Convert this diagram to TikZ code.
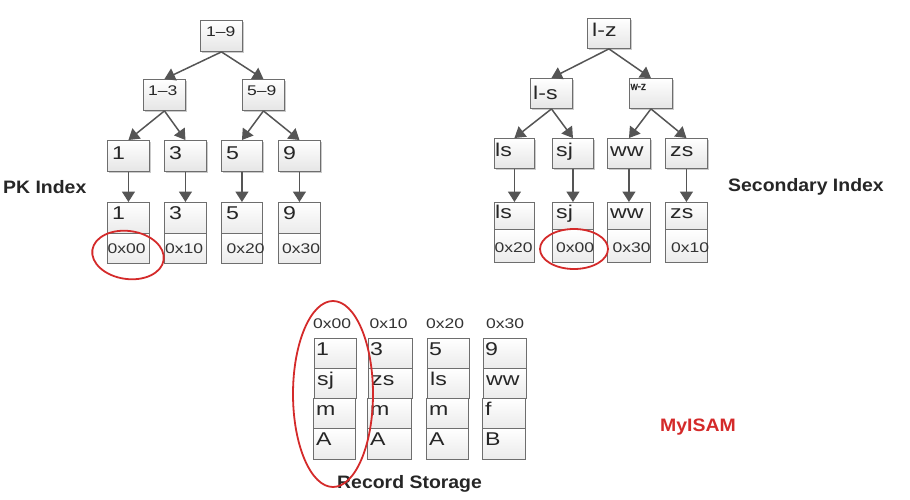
\documentclass[tikz,border=0pt]{standalone}
\usepackage{fontspec}
\setmainfont{Liberation Sans}[FakeStretch=1.25]
\newfontfamily\addrfont{Liberation Sans}[FakeStretch=1.25]
\newfontfamily\tinyfont{Liberation Sans}[FakeStretch=0.85,FakeBold=1.5]
\newfontfamily\titlefont{Liberation Sans}[FakeStretch=1.08]
\usetikzlibrary{arrows.meta,shadows}
\definecolor{boxline}{HTML}{6E6E6E}
\definecolor{arrowc}{HTML}{555555}
\definecolor{circred}{HTML}{D42A2A}
\begin{document}
\begin{tikzpicture}[x=1pt,y=-1pt,
  box/.style={draw=boxline, line width=0.9pt, rectangle, inner sep=0pt, anchor=north west,
    top color=white, bottom color=black!10,
    drop shadow={shadow xshift=1.6pt, shadow yshift=-1.6pt, fill=black!45, opacity=0.45}},
  cell/.style={draw=boxline, line width=0.9pt, rectangle, inner sep=0pt, anchor=north west,
    top color=white, bottom color=black!8},
  txt/.style={anchor=base west, inner sep=0pt, font=\fontsize{18.5}{18.5}\selectfont, text=black!85},
  sml/.style={anchor=base west, inner sep=0pt, font=\fontsize{14}{14}\selectfont, text=black!85},
  addr/.style={anchor=base west, inner sep=0pt, font=\addrfont\fontsize{14}{14}\selectfont, text=black!80},
  arr/.style={draw=arrowc, line width=1.5pt, -{Triangle[width=13pt,length=10.5pt]}},
  ring/.style={draw=circred, line width=1.8pt},
  title/.style={inner sep=0pt, font=\titlefont\bfseries\fontsize{18}{18}\selectfont, text=black!85}
]
\useasboundingbox (0,0) rectangle (910,500);

% ---------------- PK index ----------------
\node[box, minimum width=42, minimum height=31] (r19) at (200,20) {};
\node[sml] (t19) at ([xshift=6,yshift=-17]r19.north west) {1–9};
\node[box, minimum width=42, minimum height=31] (r13) at (143,79) {};
\node[sml] (t13) at ([xshift=5,yshift=-17]r13.north west) {1–3};
\node[box, minimum width=42, minimum height=31] (r59) at (242,79) {};
\node[sml] (t59) at ([xshift=5,yshift=-17]r59.north west) {5–9};

\node[box, minimum width=42, minimum height=31] (p1) at (107,140) {};
\node[box, minimum width=42, minimum height=31] (p3) at (164,140) {};
\node[box, minimum width=41, minimum height=31] (p5) at (221,140) {};
\node[box, minimum width=42, minimum height=31] (p9) at (278,140) {};
\node[txt] (tp1) at ([xshift=5,yshift=-19]p1.north west) {1};
\node[txt] (tp3) at ([xshift=5,yshift=-19]p3.north west) {3};
\node[txt] (tp5) at ([xshift=5,yshift=-19]p5.north west) {5};
\node[txt] (tp9) at ([xshift=5,yshift=-19]p9.north west) {9};

\node[cell, minimum width=42, minimum height=31] (q1) at (107,202) {};
\node[cell, minimum width=42, minimum height=31] (q3) at (164,202) {};
\node[cell, minimum width=41, minimum height=31] (q5) at (221,202) {};
\node[cell, minimum width=42, minimum height=31] (q9) at (278,202) {};
\node[cell, minimum width=42, minimum height=30] (a1) at (107,233) {};
\node[cell, minimum width=42, minimum height=30] (a3) at (164,233) {};
\node[cell, minimum width=41, minimum height=30] (a5) at (221,233) {};
\node[cell, minimum width=42, minimum height=30] (a9) at (278,233) {};
\node[txt] (tq1) at ([xshift=5,yshift=-17]q1.north west) {1};
\node[txt] (tq3) at ([xshift=5,yshift=-17]q3.north west) {3};
\node[txt] (tq5) at ([xshift=5,yshift=-17]q5.north west) {5};
\node[txt] (tq9) at ([xshift=5,yshift=-17]q9.north west) {9};
\node[addr] (ta1) at ([xshift=0.5,yshift=-20]a1.north west) {0x00};
\node[addr] (ta3) at ([xshift=1,yshift=-20]a3.north west) {0x10};
\node[addr] (ta5) at ([xshift=5.5,yshift=-20]a5.north west) {0x20};
\node[addr] (ta9) at ([xshift=4,yshift=-20]a9.north west) {0x30};

\draw[arr] (r19.south) -- (r13.north);
\draw[arr] (r19.south) -- (r59.north);
\draw[arr] (r13.south) -- (p1.north);
\draw[arr] (r13.south) -- (p3.north);
\draw[arr] (r59.south) -- (p5.north);
\draw[arr] (r59.south) -- (p9.north);
\draw[arr] (p1.south) -- (q1.north);
\draw[arr] (p3.south) -- (q3.north);
\draw[arr] (p5.south) -- (q5.north);
\draw[arr] (p9.south) -- (q9.north);

\node[title, anchor=west] (pk) at (3,187) {PK Index};
\draw[ring, rotate around={-8:(128,255)}] (128,255) ellipse [x radius=36, y radius=24];

% ---------------- Secondary index ----------------
\node[box, minimum width=43, minimum height=30] (rlz) at (587,18) {};
\node[txt] (tlz) at ([xshift=5,yshift=-19]rlz.north west) {l-z};
\node[box, minimum width=42, minimum height=30] (rls) at (530,78) {};
\node[txt] (tls) at ([xshift=3,yshift=-22]rls.north west) {l-s};
\node[box, minimum width=43, minimum height=30] (rwz) at (629,78) {};
\node[anchor=base west, inner sep=0pt, font=\tinyfont\fontsize{11.5}{11.5}\selectfont, text=black!85] (twz) at ([xshift=1.5,yshift=-12]rwz.north west) {w-z};

\node[box, minimum width=40, minimum height=30] (s1) at (494,138) {};
\node[box, minimum width=41, minimum height=30] (s2) at (552,138) {};
\node[box, minimum width=43, minimum height=30] (s3) at (607,138) {};
\node[box, minimum width=42, minimum height=30] (s4) at (665,138) {};
\node[txt] (ts1) at ([xshift=1,yshift=-19]s1.north west) {ls};
\node[txt] (ts2) at ([xshift=4,yshift=-19]s2.north west) {sj};
\node[txt] (ts3) at ([xshift=3,yshift=-19]s3.north west) {ww};
\node[txt] (ts4) at ([xshift=5,yshift=-19]s4.north west) {zs};

\node[cell, minimum width=40, minimum height=27] (u1) at (494,202) {};
\node[cell, minimum width=41, minimum height=27] (u2) at (552,202) {};
\node[cell, minimum width=43, minimum height=27] (u3) at (607,202) {};
\node[cell, minimum width=42, minimum height=27] (u4) at (665,202) {};
\node[cell, minimum width=40, minimum height=33] (b1) at (494,229) {};
\node[cell, minimum width=41, minimum height=33] (b2) at (552,229) {};
\node[cell, minimum width=43, minimum height=33] (b3) at (607,229) {};
\node[cell, minimum width=42, minimum height=33] (b4) at (665,229) {};
\node[txt] (tu1) at ([xshift=1,yshift=-16]u1.north west) {ls};
\node[txt] (tu2) at ([xshift=4,yshift=-16]u2.north west) {sj};
\node[txt] (tu3) at ([xshift=3,yshift=-16]u3.north west) {ww};
\node[txt] (tu4) at ([xshift=5,yshift=-16]u4.north west) {zs};
\node[addr] (tb1) at ([xshift=0.5,yshift=-23]b1.north west) {0x20};
\node[addr] (tb2) at ([xshift=4,yshift=-23]b2.north west) {0x00};
\node[addr] (tb3) at ([xshift=5.5,yshift=-23]b3.north west) {0x30};
\node[addr] (tb4) at ([xshift=6,yshift=-23]b4.north west) {0x10};

\draw[arr] (rlz.south) -- (rls.north);
\draw[arr] (rlz.south) -- (rwz.north);
\draw[arr] (rls.south) -- (s1.north);
\draw[arr] (rls.south) -- (s2.north);
\draw[arr] (rwz.south) -- (s3.north);
\draw[arr] (rwz.south) -- (s4.north);
\draw[arr] (s1.south) -- (u1.north);
\draw[arr] (s2.south) -- (u2.north);
\draw[arr] (s3.south) -- (u3.north);
\draw[arr] (s4.south) -- (u4.north);

\node[title, anchor=west] (sec) at (728,187) {Secondary Index};
\draw[ring] (574,249) ellipse [x radius=34, y radius=20];

% ---------------- Record storage ----------------
\node[addr] (h0) at (313,328) {0x00};
\node[addr] (h1) at (369.5,328) {0x10};
\node[addr] (h2) at (426,328) {0x20};
\node[addr] (h3) at (486,328) {0x30};

\foreach \c/\x/\w/\ra/\rb/\rc/\rd in {0/314/42/1/sj/m/A, 1/368/44/3/zs/m/A, 2/427/42/5/ls/m/A, 3/483/43/9/ww/f/B}{
  \node[cell, minimum width=\w, minimum height=30] (c\c a) at (\x,338) {};
  \node[cell, minimum width=\w, minimum height=30] (c\c b) at (\x,368) {};
  \node[cell, minimum width=\w, minimum height=30] (c\c c) at (\x-1,398) {};
  \node[cell, minimum width=\w, minimum height=31] (c\c d) at (\x-1,428) {};
  \node[txt] (tc\c a) at ([xshift=2,yshift=-17]c\c a.north west) {\ra};
  \node[txt] (tc\c b) at ([xshift=3,yshift=-17]c\c b.north west) {\rb};
  \node[txt] (tc\c c) at ([xshift=3,yshift=-17]c\c c.north west) {\rc};
  \node[txt] (tc\c d) at ([xshift=3,yshift=-17]c\c d.north west) {\rd};
}

\node[title, anchor=west] (rs) at (337,484) {Record Storage};
\draw[ring] (333,394) ellipse [x radius=40, y radius=93];
\node[title, anchor=west, text=circred] (my) at (660,427) {MyISAM};
\end{tikzpicture}
\end{document}
